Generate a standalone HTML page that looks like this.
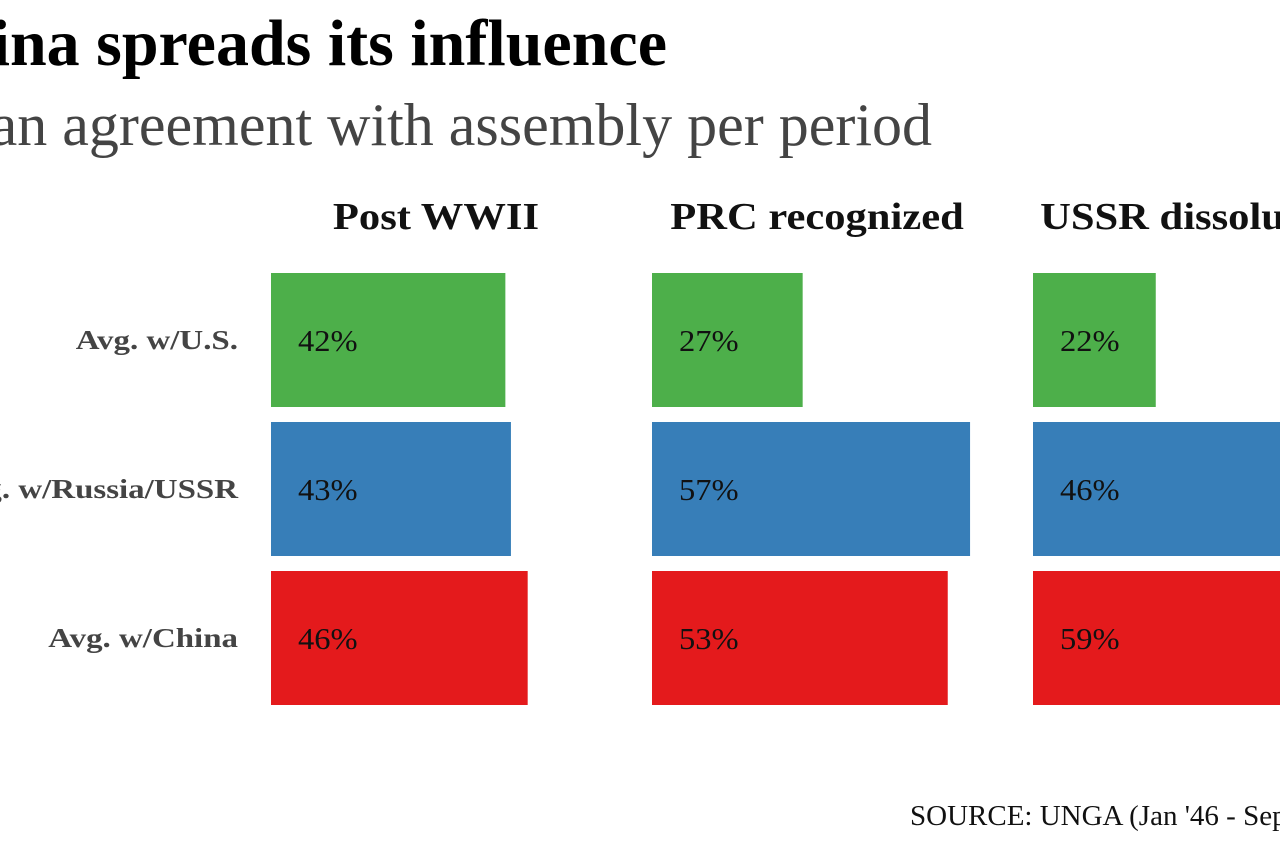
<!DOCTYPE html>
<html><head><meta charset="utf-8"><style>
html,body{margin:0;padding:0;background:#fff;width:1280px;height:853px;overflow:hidden}
svg{display:block;font-family:"Liberation Serif",serif}
</style></head><body>
<svg id="chart" width="1280" height="853">
<text x="667" y="65" text-anchor="end" font-size="66" font-weight="bold" fill="#000">China spreads its influence</text>
<text x="932" y="145" text-anchor="end" font-size="60" fill="#444">Mean agreement with assembly per period</text>
<text x="910" y="825" font-size="29" fill="#111">SOURCE: UNGA (Jan '46 - Sep '23)</text>
</svg>
<script>
const periods=["Post WWII","PRC recognized","USSR dissolution"];
const rowsLabels=["Avg. w/U.S.","Avg. w/Russia/USSR","Avg. w/China"];
const usVals=[42,27,22];
const russiaVals=[43,57,46];
const chinaVals=[46,53,59];
const colors=["#4daf4a","#377eb8","#e41a1c"];
const series=[usVals,russiaVals,chinaVals];
const NS="http://www.w3.org/2000/svg";
const svg=document.getElementById('chart');
const panelX=p=>271+p*381;
const xScale=v=>v*5.58;
const rowY=r=>273+r*149;
const rowH=134;
function mk(tag,attrs,txt){const e=document.createElementNS(NS,tag);for(const k in attrs)e.setAttribute(k,attrs[k]);if(txt!=null)e.textContent=txt;svg.appendChild(e);return e;}
function fit(e,k){const w=e.getComputedTextLength();e.setAttribute('textLength',w*k);e.setAttribute('lengthAdjust','spacingAndGlyphs');}
rowsLabels.forEach((l,r)=>{
  const t=mk('text',{x:238,y:rowY(r)+rowH/2+9,'text-anchor':'end','font-size':27,'font-weight':'bold',fill:'#444'},l);
  
  
  fit(t,1.22);
});
periods.forEach((p,i)=>{
  const t=mk('text',{x:panelX(i)+165,y:229,'text-anchor':'middle','font-size':38,'font-weight':'bold',fill:'#111'},p);
  
  
  fit(t,1.12);
  series.forEach((s,r)=>{
    const b=mk('rect',{x:panelX(i),y:rowY(r),width:xScale(s[i]),height:rowH,fill:colors[r]});
    
    
    const v=mk('text',{x:panelX(i)+27,y:rowY(r)+rowH/2+11,'font-size':31,fill:'#111'},s[i]+'%');
    
    
    fit(v,1.05);
  });
});
</script>
</body></html>
